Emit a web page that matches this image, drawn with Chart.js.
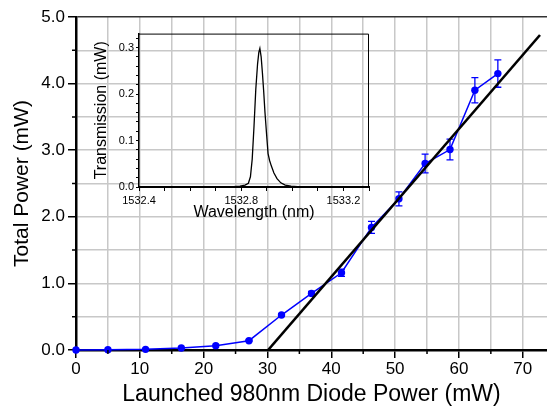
<!DOCTYPE html>
<html>
<head>
<meta charset="utf-8">
<script src="https://cdn.jsdelivr.net/npm/chart.js@4.4.0/dist/chart.umd.min.js"></script>
<style>
  body { margin: 0; background: #fff; }
  #wrap { position: relative; width: 547px; height: 407px; overflow: hidden; }
  #insetBox { position: absolute; left: 84px; top: 25px; }
</style>
</head>
<body>
<div id="wrap">
  <canvas id="mainChart" width="551" height="407"></canvas>
  <div id="insetBox"><canvas id="insetChart" width="296" height="200"></canvas></div>
</div>
<script>
// main plot: launched pump power vs total output power
const power = [0, 5.0, 10.9, 16.5, 21.9, 27.1, 32.2, 36.9, 41.6, 46.3, 50.6, 54.7, 58.6, 62.5, 66.1];
const total = [0.0, 0.005, 0.01, 0.03, 0.065, 0.14, 0.525, 0.85, 1.16, 1.84, 2.27, 2.80, 3.01, 3.90, 4.15];
const totalErr = [0, 0, 0, 0, 0, 0.01, 0.02, 0.03, 0.055, 0.09, 0.105, 0.14, 0.155, 0.19, 0.205];

// linear fit (threshold ~30 mW)
const fitX = [30.1, 72.7];
const fitY = [0, 4.73];

// inset: transmission spectrum
const wavelength = [1532.74, 1532.77, 1532.795, 1532.815, 1532.828, 1532.836, 1532.843, 1532.85, 1532.857, 1532.864, 1532.869, 1532.873, 1532.878, 1532.883, 1532.888, 1532.893, 1532.899, 1532.905, 1532.911, 1532.918, 1532.928, 1532.94, 1532.955, 1532.972, 1532.995, 1533.02, 1533.04];
const transmission = [0.0, 0.001, 0.002, 0.004, 0.008, 0.022, 0.06, 0.13, 0.21, 0.265, 0.29, 0.298, 0.28, 0.245, 0.205, 0.16, 0.115, 0.072, 0.057, 0.045, 0.03, 0.018, 0.009, 0.004, 0.002, 0.001, 0.0];

Chart.defaults.font.family = '"Liberation Sans", Arial, sans-serif';
Chart.defaults.color = "#000";

const BLUE = "#0000ff";

const mainExtras = {
  id: "mainExtras",
  beforeDatasetsDraw(chart) {
    const { ctx, scales } = chart;
    ctx.save();
    ctx.strokeStyle = BLUE;
    ctx.lineWidth = 1.3;
    power.forEach((p, i) => {
      const e = totalErr[i];
      if (!e) return;
      const x = scales.x.getPixelForValue(p);
      const y1 = scales.y.getPixelForValue(total[i] + e);
      const y2 = scales.y.getPixelForValue(total[i] - e);
      ctx.beginPath();
      ctx.moveTo(x, y1);
      ctx.lineTo(x, y2);
      ctx.moveTo(x - 3.5, y1);
      ctx.lineTo(x + 3.5, y1);
      ctx.moveTo(x - 3.5, y2);
      ctx.lineTo(x + 3.5, y2);
      ctx.stroke();
    });
    ctx.restore();
  },
  afterDraw(chart) {
    // short minor ticks
    const { ctx, scales, chartArea } = chart;
    ctx.save();
    ctx.strokeStyle = "#000";
    ctx.lineWidth = 1.5;
    ctx.beginPath();
    scales.x.ticks.forEach((t) => {
      if (t.value % 10 === 0) return;
      const x = scales.x.getPixelForValue(t.value);
      ctx.moveTo(x, chartArea.bottom);
      ctx.lineTo(x, chartArea.bottom + 4);
    });
    scales.y.ticks.forEach((t) => {
      if (Number.isInteger(t.value)) return;
      const y = scales.y.getPixelForValue(t.value);
      ctx.moveTo(chartArea.left - 4, y);
      ctx.lineTo(chartArea.left, y);
    });
    ctx.stroke();
    ctx.restore();
  },
};

new Chart(document.getElementById("mainChart"), {
  type: "line",
  data: {
    datasets: [
      {
        label: "fit",
        data: fitX.map((x, i) => ({ x: x, y: fitY[i] })),
        borderColor: "#000",
        borderWidth: 2.6,
        pointRadius: 0,
        order: 0,
      },
      {
        label: "Total power",
        data: power.map((x, i) => ({ x: x, y: total[i] })),
        borderColor: BLUE,
        backgroundColor: BLUE,
        borderWidth: 1.5,
        pointRadius: 3.7,
        pointBorderWidth: 0,
        pointBackgroundColor: BLUE,
        clip: false,
        order: 1,
      },
    ],
  },
  options: {
    responsive: false,
    animation: false,
    layout: { padding: { top: 17, right: 0, left: 0, bottom: 0 } },
    plugins: { legend: { display: false }, tooltip: { enabled: false } },
    scales: {
      x: {
        type: "linear",
        min: 0,
        max: 73.8,
        border: { color: "#000", width: 2.5 },
        grid: {
          color: "#c8c8c8",
          lineWidth: 1.5,
          tickLength: 8,
          tickWidth: 1.5,
          tickColor: (c) => (c.tick && c.tick.value % 10 === 0 ? "#000" : "rgba(0,0,0,0)"),
        },
        ticks: {
          stepSize: 5,
          includeBounds: false,
          autoSkip: false,
          maxRotation: 0,
          padding: 1,
          font: { size: 17 },
          callback: (v) => (v % 10 === 0 ? String(v) : ""),
        },
        title: {
          display: true,
          text: "Launched 980nm Diode Power (mW)",
          font: { size: 23 },
          padding: { top: 0, bottom: -1 },
        },
        afterFit: (s) => { s.height = 57; },
      },
      y: {
        min: 0,
        max: 5,
        border: { color: "#000", width: 2.5 },
        grid: {
          color: (c) => (c.tick && c.tick.value === 5 ? "#333" : "#c8c8c8"),
          lineWidth: 1.5,
          tickLength: 8,
          tickWidth: 1.5,
          tickColor: (c) => (c.tick && Number.isInteger(c.tick.value) ? "#000" : "rgba(0,0,0,0)"),
        },
        ticks: {
          stepSize: 0.5,
          autoSkip: false,
          padding: 3,
          font: { size: 17 },
          callback: (v) => (Number.isInteger(v) ? v.toFixed(1) : ""),
        },
        title: {
          display: true,
          text: "Total Power (mW)",
          font: { size: 21 },
          padding: { top: 10, bottom: 0 },
        },
        afterFit: (s) => { s.width = 76; },
      },
    },
  },
  plugins: [mainExtras],
});

const insetFrame = {
  id: "insetFrame",
  afterDraw(chart) {
    const { ctx, chartArea } = chart;
    ctx.save();
    ctx.strokeStyle = "#000";
    ctx.lineWidth = 1;
    ctx.beginPath();
    ctx.moveTo(chartArea.left, chartArea.top + 0.5);
    ctx.lineTo(chartArea.right - 0.5, chartArea.top + 0.5);
    ctx.lineTo(chartArea.right - 0.5, chartArea.bottom);
    ctx.stroke();
    ctx.restore();
  },
};

new Chart(document.getElementById("insetChart"), {
  type: "line",
  data: {
    datasets: [
      {
        label: "Transmission",
        data: wavelength.map((x, i) => ({ x: x, y: transmission[i] })),
        borderColor: "#000",
        borderWidth: 1.3,
        pointRadius: 0,
        tension: 0,
      },
    ],
  },
  options: {
    responsive: false,
    animation: false,
    layout: { padding: { top: 7, right: 11, left: 0, bottom: 0 } },
    plugins: { legend: { display: false }, tooltip: { enabled: false } },
    scales: {
      x: {
        type: "linear",
        min: 1532.4,
        max: 1533.3,
        border: { color: "#000", width: 2 },
        grid: { drawOnChartArea: false, tickLength: 4, tickColor: "#000", tickWidth: 1 },
        ticks: {
          stepSize: 0.1,
          autoSkip: false,
          maxRotation: 0,
          padding: 3,
          font: { size: 11 },
          callback: (v) => {
            const k = (v - 1532.4) / 0.4;
            return Math.abs(k - Math.round(k)) < 1e-6 ? v.toFixed(1) : "";
          },
        },
        title: {
          display: true,
          text: "Wavelength (nm)",
          font: { size: 16 },
          padding: { top: 0, bottom: 3 },
        },
        afterFit: (s) => { s.height = 38; },
      },
      y: {
        min: 0,
        max: 0.33,
        border: { color: "#000", width: 1.5 },
        grid: { drawOnChartArea: false, tickLength: 3, tickColor: "#000", tickWidth: 1 },
        ticks: {
          stepSize: 0.02,
          includeBounds: false,
          autoSkip: false,
          padding: 2,
          font: { size: 11 },
          callback: (v) => (Math.abs(v * 10 - Math.round(v * 10)) < 1e-6 ? v.toFixed(1) : ""),
        },
        title: {
          display: true,
          text: "Transmission (mW)",
          font: { size: 16 },
          padding: { top: 8, bottom: 0 },
        },
        afterFit: (s) => { s.width = 55; },
      },
    },
  },
  plugins: [insetFrame],
});
</script>
</body>
</html>
